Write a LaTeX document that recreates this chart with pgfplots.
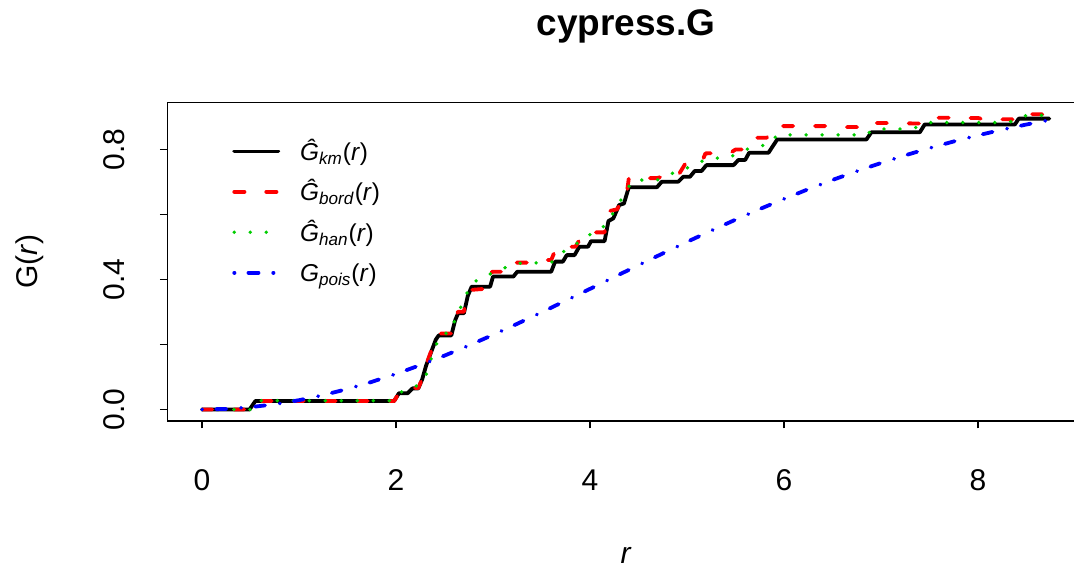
\documentclass[border=0pt]{standalone}
\usepackage{pgfplots}
\pgfplotsset{compat=1.18}
\usepackage{fontspec}
\setmainfont{Liberation Sans}
\definecolor{rred}{HTML}{FF0000}
\definecolor{rgreen}{HTML}{00CD00}
\definecolor{rblue}{HTML}{0000FF}
\begin{document}
\begin{tikzpicture}
\path[use as bounding box, clip] (0,0) rectangle (537pt,284.5pt);
\begin{axis}[
  at={(83.75pt,74.15pt)}, anchor=south west,
  scale only axis, width=458.5pt, height=159.1pt,
  xmin=-0.356, xmax=9.098, ymin=-0.0345, ymax=0.9446,
  axis line style={line width=0.9pt},
  tick style={line width=0.9pt, black},
  tick align=outside, major tick length=3.8pt,
  xtick pos=left, ytick pos=left,
  xtick={0,2,4,6,8}, xticklabels={0,2,4,6,8},
  ytick={0,0.2,0.4,0.6,0.8}, yticklabels={0.0,{},0.4,{},0.8},
  ticklabel style={font=\fontsize{15}{18}\selectfont},
  xticklabel style={anchor=center},
  xticklabel shift=26pt,
  yticklabel style={rotate=90, anchor=center},
  yticklabel shift=23pt,
  title={cypress.G},
  title style={at={(axis description cs:0.5,1)}, anchor=base, yshift=27.75pt, font=\bfseries\fontsize{18.5}{22}\selectfont},
  xlabel={\textit{r}},
  xlabel style={at={(axis description cs:0.5,0)}, anchor=base, yshift=-71.5pt, inner sep=0pt, font=\fontsize{15}{18}\selectfont},
  ylabel={G(\textit{r})},
  ylabel style={at={(axis description cs:-0.14995,0.5)}, anchor=center, font=\fontsize{15}{18}\selectfont},
  legend style={draw=none, fill=none, at={(rel axis cs:0.0703,0.882)}, anchor=north west,
    font=\fontsize{12.2}{14}\selectfont, row sep=6.2pt, column sep=10pt, inner sep=0pt,
    nodes={inner sep=0pt, text height=10pt, text depth=4pt}},
  legend cell align=left,
  legend image code/.code={\draw[#1] (0pt,1.5pt) -- (22pt,1.5pt);},
]
\addplot[black, line width=1.9pt, line join=round, line cap=round] coordinates {
(0,0) (0.49,0) (0.55,0.026) (1.98,0.026) (2.03,0.050) (2.12,0.050) (2.17,0.065) (2.23,0.065)
(2.27,0.093) (2.31,0.135) (2.36,0.175) (2.41,0.215) (2.44,0.228) (2.57,0.228) (2.61,0.275)
(2.64,0.296) (2.70,0.296) (2.74,0.350) (2.78,0.378) (2.97,0.378) (3.00,0.409) (3.21,0.409)
(3.25,0.424) (3.60,0.424) (3.64,0.455) (3.72,0.455) (3.76,0.475) (3.84,0.475) (3.89,0.501)
(3.98,0.501) (4.01,0.518) (4.15,0.518) (4.19,0.580) (4.24,0.588) (4.30,0.629) (4.35,0.634)
(4.40,0.684) (4.69,0.684) (4.74,0.701) (4.91,0.701) (4.96,0.716) (5.03,0.716) (5.08,0.734)
(5.15,0.734) (5.20,0.752) (5.48,0.752) (5.53,0.768) (5.60,0.768) (5.64,0.790) (5.84,0.790)
(5.93,0.831) (6.85,0.831) (6.90,0.853) (7.40,0.853) (7.45,0.877) (8.38,0.877) (8.42,0.895)
(8.735,0.895)
};
\addlegendentry{\textit{Ĝ}\textsubscript{\textit{km}}(\textit{r})}
\addplot[rred, line width=1.9pt, dash pattern=on 5.1pt off 10.9pt, line join=round, line cap=round] coordinates {
(0,0) (0.49,0) (0.55,0.026) (1.98,0.026) (2.03,0.050) (2.12,0.050) (2.17,0.066) (2.23,0.066)
(2.27,0.095) (2.31,0.137) (2.36,0.178) (2.41,0.222) (2.44,0.234) (2.57,0.234) (2.61,0.282)
(2.64,0.301) (2.70,0.301) (2.74,0.358) (2.77,0.368) (2.95,0.372) (2.99,0.424) (3.20,0.424)
(3.24,0.452) (3.50,0.452) (3.53,0.460) (3.60,0.460) (3.63,0.482) (3.73,0.482) (3.77,0.501)
(3.85,0.501) (3.90,0.526) (3.95,0.545) (4.15,0.545) (4.19,0.610) (4.28,0.616) (4.32,0.640)
(4.37,0.645) (4.40,0.712) (4.69,0.712) (4.74,0.716) (4.90,0.716) (4.98,0.755) (5.15,0.760)
(5.19,0.788) (5.45,0.790) (5.50,0.800) (5.62,0.800) (5.70,0.836) (5.82,0.836) (5.90,0.872)
(6.50,0.872) (6.60,0.869) (6.85,0.869) (6.88,0.882) (7.40,0.880) (7.47,0.898) (8.00,0.897)
(8.05,0.893) (8.40,0.893) (8.45,0.909) (8.735,0.908)
};
\addlegendentry{\textit{Ĝ}\textsubscript{\textit{bord}}(\textit{r})}
\addplot[rgreen, line width=1.9pt, dash pattern=on 0pt off 8pt, line join=round, line cap=round] coordinates {
(0,0) (0.50,0) (0.56,0.027) (1.97,0.027) (2.06,0.055) (2.20,0.070) (2.30,0.096) (2.35,0.147)
(2.40,0.185) (2.45,0.229) (2.57,0.239) (2.63,0.301) (2.71,0.330) (2.745,0.376) (2.86,0.404)
(2.99,0.419) (3.12,0.436) (3.24,0.450) (3.60,0.452) (3.69,0.481) (3.83,0.499) (3.92,0.530)
(4.07,0.545) (4.17,0.571) (4.25,0.610) (4.33,0.650) (4.40,0.686) (4.45,0.706) (4.69,0.706)
(4.82,0.724) (4.97,0.739) (5.10,0.757) (5.23,0.774) (5.41,0.773) (5.55,0.791) (5.68,0.809)
(5.84,0.814) (5.93,0.845) (6.85,0.845) (6.92,0.863) (7.30,0.863) (7.41,0.872) (7.50,0.883)
(8.30,0.883) (8.38,0.889) (8.50,0.905) (8.735,0.905)
};
\addlegendentry{\textit{Ĝ}\textsubscript{\textit{han}}(\textit{r})}
\addplot[rblue, line width=1.9pt, dash pattern=on 0.1pt off 7pt on 5pt off 7.4pt, line join=round, line cap=round] coordinates {
(0,0) (0.25,0.0018) (0.5,0.0072) (0.75,0.0162) (1.0,0.0286) (1.25,0.0443) (1.5,0.0632)
(1.75,0.0850) (2.0,0.1095) (2.25,0.1365) (2.5,0.1658) (2.75,0.1969) (3.0,0.2297) (3.25,0.2638)
(3.5,0.2990) (3.75,0.3349) (4.0,0.3712) (4.25,0.4077) (4.5,0.4442) (4.75,0.4802) (5.0,0.5157)
(5.25,0.5504) (5.5,0.5841) (5.75,0.6167) (6.0,0.6480) (6.25,0.6779) (6.5,0.7063) (6.75,0.7332)
(7.0,0.7585) (7.25,0.7822) (7.5,0.8043) (7.75,0.8248) (8.0,0.8437) (8.25,0.8611) (8.5,0.8770)
(8.735,0.8906)
};
\addlegendentry{\textit{G}\textsubscript{\textit{pois}}(\textit{r})}
\end{axis}
\end{tikzpicture}
\end{document}
